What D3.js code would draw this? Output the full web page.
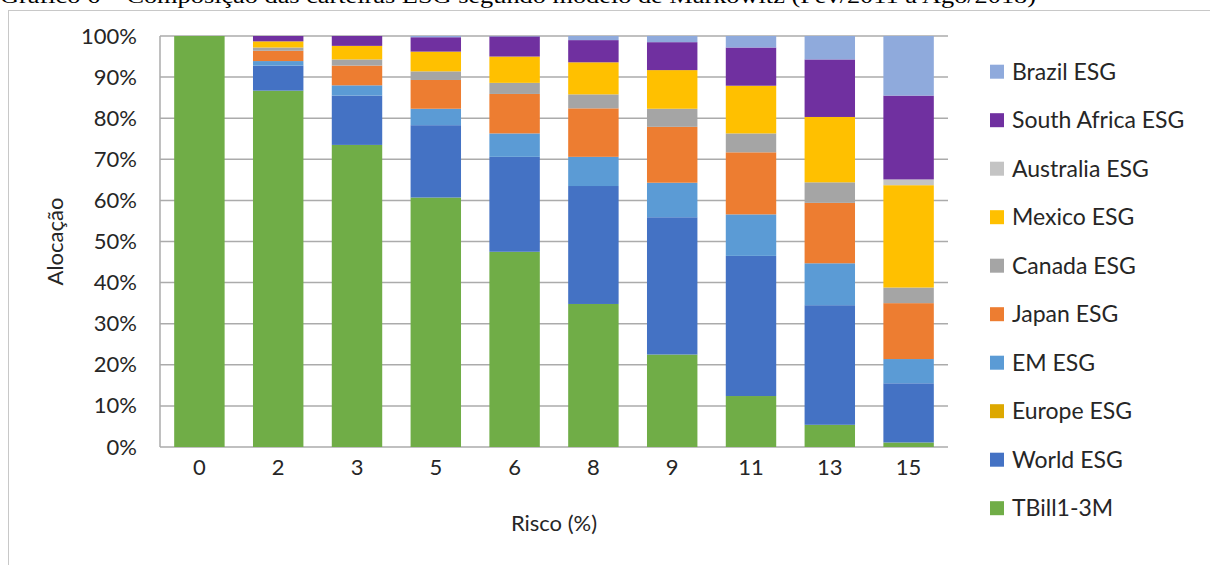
<!DOCTYPE html>
<html>
<head>
<meta charset="utf-8">
<script src="https://cdn.jsdelivr.net/npm/d3@7"></script>
<style>
  html, body { margin: 0; padding: 0; background: #fff; }
  svg { display: block; }
</style>
</head>
<body>
<svg id="chart" width="1210" height="565"></svg>
<script>
// Risk levels (x categories)
const categories = ["0", "2", "3", "5", "6", "8", "9", "11", "13", "15"];

// Allocation (%) per asset, one value per risk level
const tbill       = [100, 86.7, 73.5, 60.7, 47.5, 34.8, 22.5, 12.4, 5.4, 1.1];
const worldESG    = [0, 6.1, 12.0, 17.6, 23.1, 28.7, 33.4, 34.1, 29.1, 14.4];
const europeESG   = [0, 0, 0, 0, 0, 0, 0, 0, 0, 0];
const emESG       = [0, 1.1, 2.5, 4.0, 5.7, 7.1, 8.4, 10.1, 10.2, 5.9];
const japanESG    = [0, 2.5, 4.8, 7.0, 9.6, 11.8, 13.6, 15.1, 14.7, 13.6];
const canadaESG   = [0, 0.8, 1.5, 2.1, 2.7, 3.4, 4.4, 4.6, 5.0, 3.8];
const mexicoESG   = [0, 1.5, 3.3, 4.8, 6.4, 7.8, 9.4, 11.6, 15.9, 24.9];
const australiaESG= [0, 0, 0, 0, 0, 0, 0, 0, 0, 1.4];
const southAfrESG = [0, 1.3, 2.4, 3.5, 4.9, 5.4, 6.8, 9.3, 14.0, 20.4];
const brazilESG   = [0, 0, 0, 0.3, 0.1, 1.0, 1.5, 2.8, 5.7, 14.5];

// Series in stacking order (bottom to top)
const seriesNames = ["TBill1-3M", "World ESG", "Europe ESG", "EM ESG", "Japan ESG",
                     "Canada ESG", "Mexico ESG", "Australia ESG", "South Africa ESG", "Brazil ESG"];
const seriesValues = [tbill, worldESG, europeESG, emESG, japanESG,
                      canadaESG, mexicoESG, australiaESG, southAfrESG, brazilESG];
const seriesColors = ["#70AD47", "#4472C4", "#DDA800", "#5B9BD5", "#ED7D31",
                      "#A5A5A5", "#FFC000", "#C4C4C4", "#7030A0", "#8FAADC"];

const yTicks = [0, 10, 20, 30, 40, 50, 60, 70, 80, 90, 100];

const FONT = "Lato, 'Open Sans', sans-serif";
const TEXT = "#262626";

const svg = d3.select("#chart");

// Outer frame (top and left edges) and the caption above it
svg.append("text")
  .attr("x", 0).attr("y", 3)
  .attr("textLength", 1036).attr("lengthAdjust", "spacingAndGlyphs")
  .style("font-family", "'Liberation Serif', 'Times New Roman', serif")
  .style("font-size", "22px").attr("fill", "#000")
  .text("Gráfico 6 – Composição das carteiras ESG segundo modelo de Markowitz (Fev/2011 a Ago/2018)");

svg.append("line").attr("x1", 8).attr("x2", 1210).attr("y1", 10.5).attr("y2", 10.5)
  .attr("stroke", "#C8C8C8").attr("stroke-width", 1);
svg.append("line").attr("x1", 8.5).attr("x2", 8.5).attr("y1", 10).attr("y2", 565)
  .attr("stroke", "#C8C8C8").attr("stroke-width", 1);

// Plot area
const plotL = 160, plotR = 948, plotT = 36, plotB = 447;

const x = d3.scaleBand().domain(categories).range([plotL, plotR])
  .paddingInner(0.36).paddingOuter(0.18);
const y = d3.scaleLinear().domain([0, 100]).range([plotB, plotT]);

// Gridlines
svg.append("g").selectAll("line").data(yTicks).join("line")
  .attr("x1", plotL).attr("x2", plotR)
  .attr("y1", d => y(d)).attr("y2", d => y(d))
  .attr("stroke", "#ABABAB").attr("stroke-width", 1.5);
svg.append("line").attr("x1", plotL).attr("x2", plotL).attr("y1", plotT).attr("y2", plotB)
  .attr("stroke", "#ABABAB").attr("stroke-width", 1.5);

// Stack data
const rows = categories.map((c, i) => {
  const r = { cat: c };
  seriesNames.forEach((s, k) => { r[s] = seriesValues[k][i]; });
  return r;
});
const stacked = d3.stack().keys(seriesNames)(rows);

svg.append("g").selectAll("g").data(stacked).join("g")
  .attr("fill", (d, i) => seriesColors[i])
  .selectAll("rect").data(d => d).join("rect")
  .attr("x", d => x(d.data.cat))
  .attr("width", x.bandwidth())
  .attr("y", d => y(Math.min(d[1], 100)))
  .attr("height", d => Math.max(0, y(d[0]) - y(Math.min(d[1], 100))));

// Y axis labels
const yAxis = d3.axisLeft(y).tickValues(yTicks).tickFormat(d => d + "%").tickSize(0).tickPadding(23);
const gy = svg.append("g").attr("transform", `translate(${plotL},0)`).call(yAxis);
gy.select(".domain").remove();
gy.selectAll("text").style("font-family", FONT).style("font-size", "22px").attr("fill", TEXT);

// X axis labels
const xAxis = d3.axisBottom(x).tickSize(0).tickPadding(12);
const gx = svg.append("g").attr("transform", `translate(0,${plotB})`).call(xAxis);
gx.select(".domain").remove();
gx.selectAll("text").style("font-family", FONT).style("font-size", "22px").attr("fill", TEXT);

// Axis titles
svg.append("text")
  .attr("transform", `translate(63,${(plotT + plotB) / 2}) rotate(-90)`)
  .attr("text-anchor", "middle")
  .style("font-family", FONT).style("font-size", "22px").attr("fill", TEXT)
  .text("Alocação");
svg.append("text")
  .attr("x", (plotL + plotR) / 2).attr("y", 531)
  .attr("text-anchor", "middle")
  .style("font-family", FONT).style("font-size", "22px").attr("fill", TEXT)
  .text("Risco (%)");

// Legend (top entry is the last series)
const legendItems = seriesNames.map((s, i) => ({ name: s, color: seriesColors[i] })).reverse();
const lg = svg.append("g").selectAll("g").data(legendItems).join("g")
  .attr("transform", (d, i) => `translate(990,${71.7 + i * 48.5})`);
lg.append("rect").attr("x", 0).attr("y", -7).attr("width", 14).attr("height", 14)
  .attr("fill", d => d.color);
lg.append("text").attr("x", 22).attr("y", 0).attr("dy", "0.35em")
  .style("font-family", FONT).style("font-size", "23px").attr("fill", TEXT)
  .text(d => d.name);
</script>
</body>
</html>
